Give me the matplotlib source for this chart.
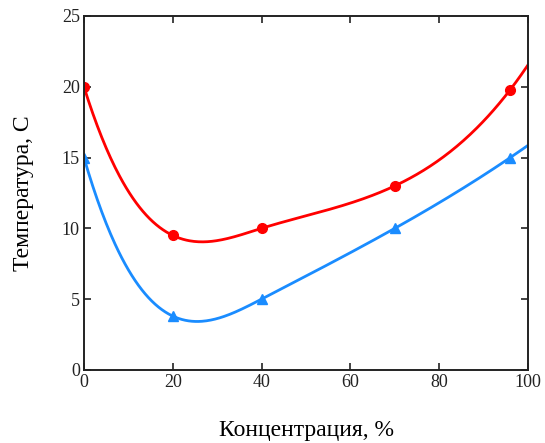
import numpy as np
import matplotlib
matplotlib.use("Agg")
import matplotlib.pyplot as plt

# Data
conc = [0, 20, 40, 70, 96]
temp_red = [20.0, 9.5, 10.0, 13.0, 19.8]
temp_blue = [15.0, 3.8, 5.0, 10.0, 15.0]

x_ticks = [0, 20, 40, 60, 80, 100]
y_ticks = [0, 5, 10, 15, 20, 25]


def spline(xk, yk, xs):
    # cubic spline, not-a-knot ends, extrapolated with the end pieces
    xk = np.asarray(xk, float)
    yk = np.asarray(yk, float)
    n = len(xk)
    h = np.diff(xk)
    d = np.diff(yk) / h
    A = np.zeros((n, n))
    b = np.zeros(n)
    A[0, 0], A[0, 1], A[0, 2] = h[1], -(h[0] + h[1]), h[0]
    A[-1, -3], A[-1, -2], A[-1, -1] = h[-1], -(h[-2] + h[-1]), h[-2]
    for i in range(1, n - 1):
        A[i, i - 1] = h[i - 1]
        A[i, i] = 2 * (h[i - 1] + h[i])
        A[i, i + 1] = h[i]
        b[i] = 6 * (d[i] - d[i - 1])
    M = np.linalg.solve(A, b)
    idx = np.clip(np.searchsorted(xk, xs) - 1, 0, n - 2)
    x0, x1 = xk[idx], xk[idx + 1]
    hh = x1 - x0
    return (M[idx] * (x1 - xs) ** 3 / (6 * hh) + M[idx + 1] * (xs - x0) ** 3 / (6 * hh)
            + (yk[idx] / hh - M[idx] * hh / 6) * (x1 - xs)
            + (yk[idx + 1] / hh - M[idx + 1] * hh / 6) * (xs - x0))


xs = np.linspace(0, 100, 400)

plt.rcParams['font.family'] = ['Liberation Serif', 'DejaVu Serif']

fig = plt.figure(figsize=(5.45, 4.43), dpi=100)
ax = fig.add_axes([0.154, 0.165, 0.815, 0.799])

ax.plot(xs, spline(conc, temp_red, xs), color='#ff0000', lw=2)
ax.plot(conc, temp_red, 'o', color='#ff0000', ms=7)
ax.plot(xs, spline(conc, temp_blue, xs), color='#1a8cff', lw=2)
ax.plot(conc, temp_blue, '^', color='#1a8cff', ms=6.5)

ax.set_xlim(0, 100)
ax.set_ylim(0, 25)
ax.set_xticks(x_ticks)
ax.set_yticks(y_ticks)
ax.tick_params(direction='in', length=5, width=1.2, top=True, right=True,
               labelsize=13, colors='#222222', pad=3)
for s in ax.spines.values():
    s.set_linewidth(1.4)
    s.set_color('#222222')

ax.set_xlabel('Концентрация, %', fontsize=17)
ax.set_ylabel('Температура, С', fontsize=17)
ax.xaxis.set_label_coords(0.5, -0.142)
ax.yaxis.set_label_coords(-0.113, 0.5)

fig.savefig('out.png', dpi=100)
